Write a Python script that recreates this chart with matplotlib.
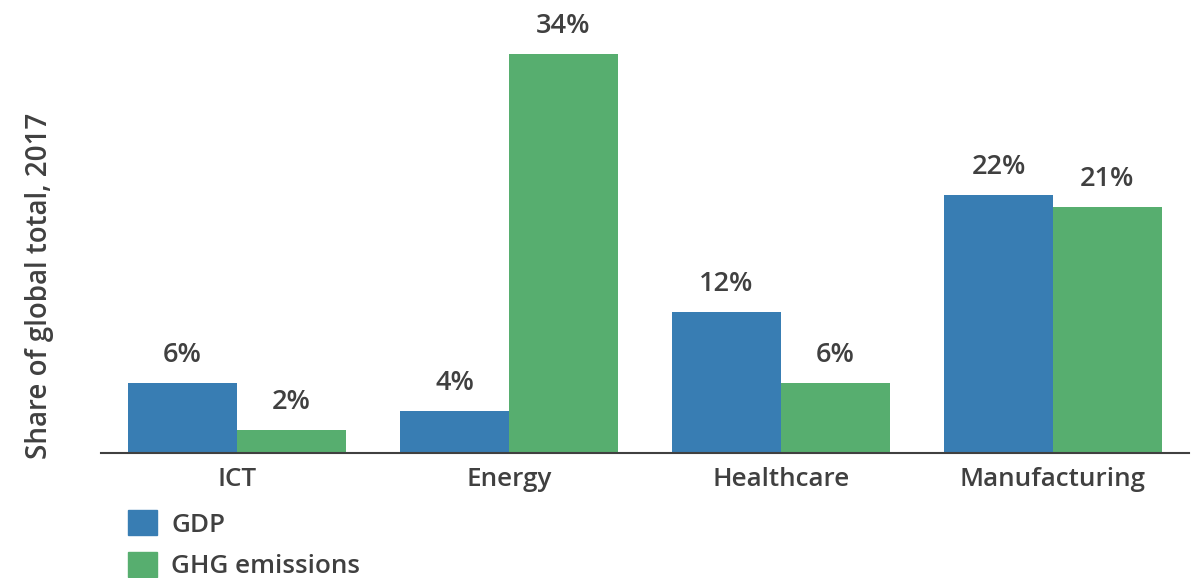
import matplotlib
matplotlib.use('Agg')
import matplotlib.pyplot as plt
from matplotlib.patches import Patch
import numpy as np

plt.rcParams['font.family'] = ['Open Sans', 'DejaVu Sans']

sectors = ['ICT', 'Energy', 'Healthcare', 'Manufacturing']
gdp = [6, 3.6, 12, 22]
ghg = [2, 34, 6, 21]
series_names = ['GDP', 'GHG emissions']

blue = '#387db3'
green = '#57ae6f'
textc = '#404040'

W, H = 1199, 578
fig = plt.figure(figsize=(W / 100, H / 100), dpi=100)
# axes in pixel positions: left 101, right 1189, baseline 453, top 20
ax = fig.add_axes([101 / W, (H - 453) / H, (1189 - 101) / W, (453 - 20) / H])

x = np.arange(len(sectors))
bw = 0.4
b1 = ax.bar(x - bw / 2, gdp, bw, color=blue)
b2 = ax.bar(x + bw / 2, ghg, bw, color=green)

for bars, vals in ((b1, gdp), (b2, ghg)):
    for b, v in zip(bars, vals):
        ax.annotate('%.0f%%' % v, (b.get_x() + b.get_width() / 2, v),
                    xytext=(0, 15), textcoords='offset points',
                    ha='center', va='baseline', fontsize=19.5,
                    fontweight='semibold', color=textc)

ax.set_xlim(-0.5, 3.5)
ax.set_ylim(0, (453 - 20) / (399 / 34))
ax.set_xticks(x)
ax.set_xticklabels(sectors, fontsize=18.7, fontweight='semibold', color=textc)
ax.tick_params(axis='x', length=0, pad=10)
ax.set_yticks([])
for s in ['top', 'right', 'left']:
    ax.spines[s].set_visible(False)
ax.spines['bottom'].set_color(textc)
ax.spines['bottom'].set_linewidth(1.5)

fig.text(40 / W, 1 - 286 / H, 'Share of global total, 2017', rotation=90,
         ha='center', va='center', fontsize=20, fontweight='semibold', color=textc)

handles = [Patch(color=blue), Patch(color=green)]
fig.legend(handles, series_names, loc='upper left',
           bbox_to_anchor=(118 / W, 1 - 500 / H), frameon=False,
           handlelength=1.1, handleheight=1.1,
           handletextpad=0.55, labelspacing=0.55, borderaxespad=0,
           prop={'weight': 'semibold', 'size': 18.7}, labelcolor=textc)

fig.savefig('out.png', dpi=100)
